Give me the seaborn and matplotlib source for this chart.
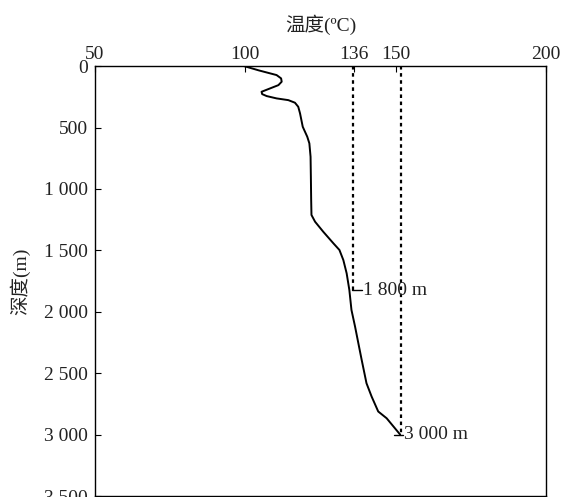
import matplotlib
matplotlib.use("Agg")
import matplotlib.pyplot as plt
import seaborn as sns
import pandas as pd

# Temperature profile (°C) vs depth (m)
temps = [99.6, 104.5, 110.4, 111.9, 112.1, 111.0, 108.2, 105.4, 105.6, 107.1,
         110.4, 114.3, 116.5, 117.6, 118.2, 119.1, 120.6, 121.3, 121.7, 121.8,
         121.9, 122.0, 123.2, 125.9, 129.3, 131.3, 132.6, 133.7, 134.6, 135.3,
         136.5, 137.6, 138.7, 140.3, 142.0, 144.2, 147.0, 151.5]
depths = [0, 35, 73, 100, 127, 155, 182, 209, 228, 244,
          263, 277, 298, 331, 385, 494, 575, 629, 738, 900,
          1090, 1212, 1267, 1348, 1443, 1497, 1579, 1687, 1823, 1985,
          2121, 2257, 2392, 2582, 2690, 2812, 2867, 3000]

# Reference lines (temperature, depth reached) and labels
ref_temps = [135.7, 151.7]
ref_depths = [1823, 3000]
ref_labels = ["1 800 m", "3 000 m"]
ref_tick_temps = [[135.6, 138.8], [149.3, 152.5]]

xticks = [50, 100, 136, 150, 200]
xtick_labels = ["50", "100", "136", "150", "200"]
yticks = [0, 500, 1000, 1500, 2000, 2500, 3000, 3500]
ytick_labels = ["0", "500", "1 000", "1 500", "2 000", "2 500", "3 000", "3 500"]

sns.set_style("ticks")
plt.rcParams['font.family'] = ['Liberation Serif', 'Noto Sans CJK SC', 'DejaVu Sans']
plt.rcParams['axes.unicode_minus'] = False

FS = 14
fig = plt.figure(figsize=(5.63, 4.97), dpi=100)
ax = fig.add_axes([0.1687, 0.002, 0.8011, 0.865])

df = pd.DataFrame({"T": temps, "D": depths})
sns.lineplot(data=df, x="T", y="D", sort=False, estimator=None, color="black",
             linewidth=1.4, ax=ax)

for t, d, lab, tk in zip(ref_temps, ref_depths, ref_labels, ref_tick_temps):
    ax.plot([t, t], [0, d], color="black", linestyle=(0, (1.6, 1.6)), linewidth=1.6)
    ax.plot(tk, [d, d], color="black", linewidth=1.0)
    ax.text(tk[1] + 0.2, d, lab, ha="left", va="center", fontsize=FS, color="#222222")

ax.set_xlim(50, 200)
ax.set_ylim(3500, 0)
ax.xaxis.tick_top()
ax.xaxis.set_label_position("top")
ax.set_xticks(xticks)
ax.set_xticklabels(xtick_labels, fontsize=FS, color="#222222")
ax.set_yticks(yticks)
ax.set_yticklabels(ytick_labels, fontsize=FS, color="#222222")
ax.tick_params(axis="both", direction="in", length=4, width=0.8, color="black")
ax.tick_params(axis="x", pad=2)
ax.tick_params(axis="y", pad=5)
ax.set_xlabel("温度(ºC)", fontsize=FS, labelpad=11, color="#222222")
ax.set_ylabel("深度(m)", fontsize=FS, labelpad=10, color="#222222")
for s in ax.spines.values():
    s.set_visible(True)
    s.set_linewidth(1.0)
    s.set_color("black")

fig.savefig("out.png", dpi=100)
